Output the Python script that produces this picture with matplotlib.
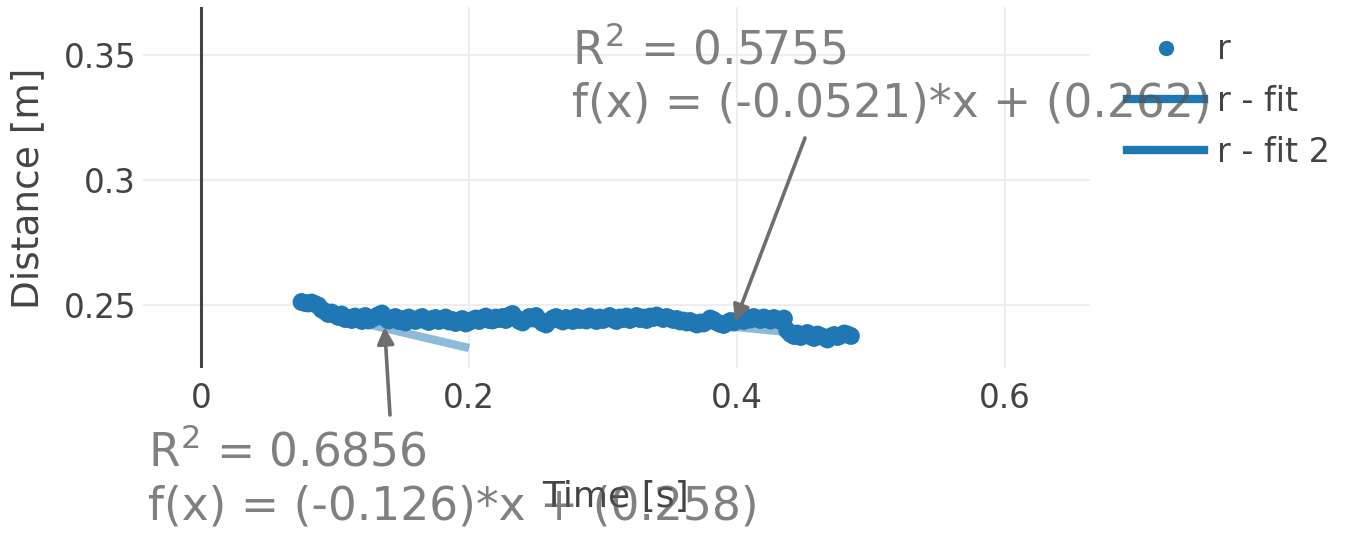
import matplotlib
matplotlib.use("Agg")
import matplotlib.pyplot as plt
from matplotlib.lines import Line2D
import numpy as np

plt.rcParams['font.family'] = ['DejaVu Sans']

time_s = [0.0750, 0.0775, 0.0800, 0.0825, 0.0850, 0.0875, 0.0900, 0.0925, 0.0950, 0.0975,
          0.1000, 0.1025, 0.1050, 0.1075, 0.1100, 0.1125, 0.1150, 0.1175, 0.1200, 0.1225,
          0.1250, 0.1275, 0.1300, 0.1325, 0.1350, 0.1375, 0.1400, 0.1425, 0.1450, 0.1475,
          0.1500, 0.1525, 0.1550, 0.1575, 0.1600, 0.1625, 0.1650, 0.1675, 0.1700, 0.1725,
          0.1750, 0.1775, 0.1800, 0.1825, 0.1850, 0.1875, 0.1900, 0.1925, 0.1950, 0.1975,
          0.2000, 0.2025, 0.2050, 0.2075, 0.2100, 0.2125, 0.2150, 0.2175, 0.2200, 0.2225,
          0.2250, 0.2275, 0.2300, 0.2325, 0.2350, 0.2375, 0.2400, 0.2425, 0.2450, 0.2475,
          0.2500, 0.2525, 0.2550, 0.2575, 0.2600, 0.2625, 0.2650, 0.2675, 0.2700, 0.2725,
          0.2750, 0.2775, 0.2800, 0.2825, 0.2850, 0.2875, 0.2900, 0.2925, 0.2950, 0.2975,
          0.3000, 0.3025, 0.3050, 0.3075, 0.3100, 0.3125, 0.3150, 0.3175, 0.3200, 0.3225,
          0.3250, 0.3275, 0.3300, 0.3325, 0.3350, 0.3375, 0.3400, 0.3425, 0.3450, 0.3475,
          0.3500, 0.3525, 0.3550, 0.3575, 0.3600, 0.3625, 0.3650, 0.3675, 0.3700, 0.3725,
          0.3750, 0.3775, 0.3800, 0.3825, 0.3850, 0.3875, 0.3900, 0.3925, 0.3950, 0.3975,
          0.4000, 0.4025, 0.4050, 0.4075, 0.4100, 0.4125, 0.4150, 0.4175, 0.4200, 0.4225,
          0.4250, 0.4275, 0.4300, 0.4325, 0.4350, 0.4375, 0.4400, 0.4425, 0.4450, 0.4475,
          0.4500, 0.4525, 0.4550, 0.4575, 0.4600, 0.4625, 0.4650, 0.4675, 0.4700, 0.4725,
          0.4750, 0.4775, 0.4800, 0.4825, 0.4850]
distance_m = [0.2512, 0.2508, 0.2506, 0.2510, 0.2504, 0.2498, 0.2482, 0.2474, 0.2464, 0.2470,
              0.2460, 0.2452, 0.2462, 0.2444, 0.2448, 0.2440, 0.2454, 0.2446, 0.2436, 0.2456,
              0.2438, 0.2444, 0.2452, 0.2460, 0.2466, 0.2448, 0.2438, 0.2446, 0.2452, 0.2436,
              0.2444, 0.2430, 0.2450, 0.2440, 0.2436, 0.2446, 0.2452, 0.2438, 0.2432, 0.2444,
              0.2448, 0.2436, 0.2442, 0.2450, 0.2434, 0.2440, 0.2428, 0.2438, 0.2444, 0.2426,
              0.2432, 0.2440, 0.2446, 0.2436, 0.2448, 0.2454, 0.2440, 0.2438, 0.2450, 0.2444,
              0.2452, 0.2440, 0.2458, 0.2464, 0.2448, 0.2436, 0.2430, 0.2442, 0.2452, 0.2446,
              0.2456, 0.2440, 0.2428, 0.2422, 0.2436, 0.2446, 0.2452, 0.2440, 0.2434, 0.2448,
              0.2444, 0.2436, 0.2452, 0.2440, 0.2446, 0.2438, 0.2454, 0.2444, 0.2436, 0.2450,
              0.2440, 0.2448, 0.2456, 0.2442, 0.2436, 0.2450, 0.2444, 0.2454, 0.2440, 0.2446,
              0.2456, 0.2444, 0.2450, 0.2440, 0.2454, 0.2448, 0.2458, 0.2450, 0.2444, 0.2452,
              0.2446, 0.2440, 0.2444, 0.2434, 0.2438, 0.2430, 0.2436, 0.2428, 0.2422, 0.2430,
              0.2426, 0.2434, 0.2446, 0.2440, 0.2430, 0.2424, 0.2420, 0.2428, 0.2436, 0.2430,
              0.2438, 0.2444, 0.2436, 0.2448, 0.2442, 0.2452, 0.2446, 0.2440, 0.2450, 0.2444,
              0.2438, 0.2448, 0.2442, 0.2436, 0.2446, 0.2398, 0.2384, 0.2376, 0.2386, 0.2372,
              0.2380, 0.2388, 0.2374, 0.2368, 0.2382, 0.2376, 0.2370, 0.2362, 0.2374, 0.2380,
              0.2372, 0.2378, 0.2386, 0.2382, 0.2376]

fit1_x = [0.100, 0.200]
fit1_slope, fit1_icpt, fit1_r2 = -0.126, 0.258, 0.6856
fit2_x = [0.300, 0.490]
fit2_slope, fit2_icpt, fit2_r2 = -0.0521, 0.262, 0.5755

ann1_xy = (0.137, 0.2412)
ann2_xy = (0.3985, 0.2432)

x_ticks = [0, 0.2, 0.4, 0.6]
x_tick_labels = ['0', '0.2', '0.4', '0.6']
y_ticks = [0.25, 0.3, 0.35]
y_tick_labels = ['0.25', '0.3', '0.35']

blue = '#1f77b4'
W, H = 1347, 537
fig = plt.figure(figsize=(W / 100, H / 100), dpi=100)
ax = fig.add_axes([143 / W, 1 - 368 / H, (1090 - 143) / W, (368 - 7) / H])
ax.set_xlim(-0.0433, 0.6634)
ax.set_ylim(0.2248, 0.3692)
for s in ax.spines.values():
    s.set_visible(False)
ax.set_xticks(x_ticks)
ax.set_xticklabels(x_tick_labels)
ax.set_yticks(y_ticks)
ax.set_yticklabels(y_tick_labels)
ax.tick_params(length=0, labelsize=23.5, colors='#444444')
ax.tick_params(axis='x', pad=10)
ax.tick_params(axis='y', pad=5)
ax.grid(True, color='#eeeeee', lw=1.5, zorder=0)
ax.set_axisbelow(True)
ax.axvline(0, color='#444444', lw=2.2, zorder=1)

f1x = np.array(fit1_x)
f2x = np.array(fit2_x)
ax.plot(f1x, fit1_slope * f1x + fit1_icpt, color=blue, alpha=0.5, lw=6, solid_capstyle='butt', zorder=2)
ax.plot(f2x, fit2_slope * f2x + fit2_icpt, color=blue, alpha=0.5, lw=6, solid_capstyle='butt', zorder=2)
ax.scatter(time_s, distance_m, s=165, color=blue, edgecolors='none', zorder=3)

fig.text(615 / W, 1 - 497 / H, 'Time [s]', fontsize=26, color='#444444', ha='center', va='center', zorder=4)
fig.text(28 / W, 1 - 188 / H, 'Distance [m]', fontsize=27, color='#444444', ha='center', va='center',
         rotation=90, zorder=4)

arrow_kw = dict(arrowstyle='-|>,head_length=1.0,head_width=0.5', color='#6e6e6e', lw=2.6, shrinkA=0, shrinkB=0)
ax.annotate('', xy=ann1_xy, xytext=(390 / W, 1 - 415 / H), textcoords='figure fraction',
            arrowprops=arrow_kw, zorder=5, annotation_clip=False)
ax.annotate('', xy=ann2_xy, xytext=(805 / W, 1 - 138 / H), textcoords='figure fraction',
            arrowprops=arrow_kw, zorder=5, annotation_clip=False)

txt_kw = dict(fontsize=32.8, color='#555555', alpha=0.75, ha='left', va='baseline', zorder=6)
fig.text(148 / W, 1 - 466 / H, f'R$^2$ = {fit1_r2:.4f}', **txt_kw)
fig.text(148 / W, 1 - 519 / H, f'f(x) = ({fit1_slope})*x + ({fit1_icpt})', **txt_kw)
fig.text(572 / W, 1 - 64 / H, f'R$^2$ = {fit2_r2:.4f}', **txt_kw)
fig.text(572 / W, 1 - 117 / H, f'f(x) = ({fit2_slope})*x + ({fit2_icpt})', **txt_kw)

handles = [
    Line2D([], [], ls='none', marker='o', markersize=11, color=blue, markeredgewidth=0),
    Line2D([], [], color=blue, lw=6),
    Line2D([], [], color=blue, lw=6),
]
leg = fig.legend(handles, ['r', 'r - fit', 'r - fit 2'], loc='upper left',
                 bbox_to_anchor=(1114 / W, 1 - 20 / H), frameon=False, fontsize=24,
                 handlelength=2.3, handletextpad=0.4, labelspacing=0.55, borderaxespad=0)
for t in leg.get_texts():
    t.set_color('#444444')

fig.savefig('out.png', dpi=100)
